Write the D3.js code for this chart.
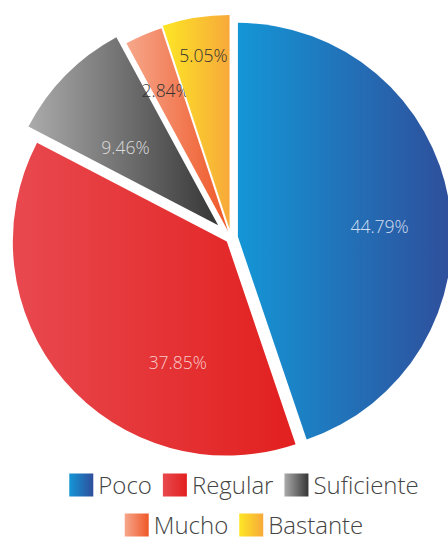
<!DOCTYPE html>
<html lang="es">
<head>
<meta charset="UTF-8">
<title>Pie</title>
<script src="https://d3js.org/d3.v7.min.js"></script>
<style>
  body { margin: 0; background: #fff; }
  svg { display: block; font-family: "Open Sans", sans-serif; }
</style>
</head>
<body>
<div id="chart"></div>
<script>
const categories = ["Poco", "Regular", "Suficiente", "Mucho", "Bastante"];
const values = [44.79, 37.85, 9.46, 2.84, 5.05];
const gradFrom = ["#1496d6", "#e8494f", "#ababab", "#f6a78b", "#fde625"];
const gradTo = ["#2f4e9b", "#e2201f", "#363636", "#ef5727", "#f7a93a"];
const labelColors = ["#d3deee", "#f7c9c9", "#dcdcdc", "#333333", "#333333"];
// how far each slice is pulled out, and where its label sits (radius, degrees)
const explode = [7, 5.5, 18, 7, 9];
const labelR = [142, 131, 121, 154, 175];
const labelA = [86, 202, 310, 336, 351.4];
const legendRows = [[0, 1, 2], [3, 4]];

const width = 448, height = 541;
const cx = 231, cy = 238, radius = 214;

const svg = d3.select("#chart").append("svg")
  .attr("width", width).attr("height", height);

const defs = svg.append("defs");
categories.forEach((c, i) => {
  const g = defs.append("linearGradient").attr("id", "g" + i)
    .attr("x1", 0).attr("x2", 1).attr("y1", 0).attr("y2", 0);
  g.append("stop").attr("offset", 0).attr("stop-color", gradFrom[i]);
  g.append("stop").attr("offset", 1).attr("stop-color", gradTo[i]);
});

const pie = d3.pie().sort(null).value(d => d);
const arcs = pie(values);
const arc = d3.arc().innerRadius(0).outerRadius(radius);

const polar = (r, a) => [r * Math.sin(a), -r * Math.cos(a)];

const slices = svg.append("g").attr("transform", `translate(${cx},${cy})`)
  .selectAll("g").data(arcs).join("g")
  .attr("transform", (d, i) => {
    const [x, y] = polar(explode[i], (d.startAngle + d.endAngle) / 2);
    return `translate(${x},${y})`;
  });

slices.append("path")
  .attr("d", arc)
  .attr("fill", (d, i) => `url(#g${i})`);

slices.append("text")
  .attr("transform", (d, i) => {
    const [x, y] = polar(labelR[i], labelA[i] * Math.PI / 180);
    return `translate(${x},${y})`;
  })
  .attr("text-anchor", "middle")
  .attr("dy", "0.36em")
  .attr("font-size", 17.5)
  .attr("font-weight", 300)
  .attr("fill", (d, i) => labelColors[i])
  .text(d => d.data.toFixed(2) + "%");

// legend
const legend = svg.append("g");
const rowY = [485, 525];
legendRows.forEach((row, r) => {
  const g = legend.append("g");
  let x = 0;
  row.forEach(i => {
    const item = g.append("g").attr("transform", `translate(${x},0)`);
    item.append("rect")
      .attr("x", 0).attr("y", -11.5)
      .attr("width", 24).attr("height", 23)
      .attr("fill", `url(#g${i})`);
    const t = item.append("text")
      .attr("x", 29).attr("dy", "0.36em")
      .attr("font-size", 24)
      .attr("font-weight", 300)
      .attr("fill", "#444")
      .text(categories[i]);
    x += 29 + t.node().getComputedTextLength() + 11;
  });
  const w = x - 11;
  g.attr("transform", `translate(${244 - w / 2},${rowY[r]})`);
});
</script>
</body>
</html>
